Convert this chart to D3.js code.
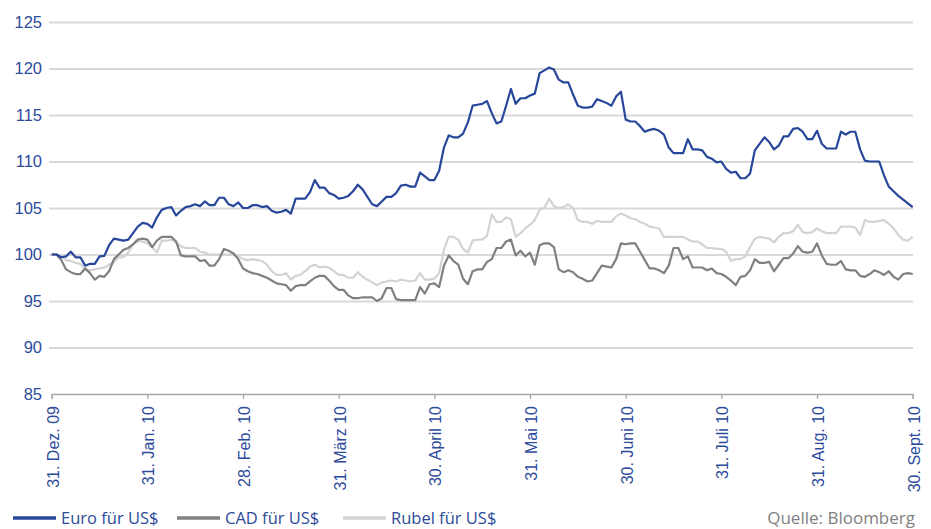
<!DOCTYPE html>
<html>
<head>
<meta charset="utf-8">
<script src="https://cdn.jsdelivr.net/npm/d3@7"></script>
<style>
  body { margin: 0; background: #fff; }
  svg { display: block; font-family: "Open Sans", "Noto Sans", sans-serif; }
</style>
</head>
<body>
<svg id="chart" width="931" height="529"></svg>
<script>
// Wechselkurse, indexiert (31.12.2009 = 100), Handelstage als Index
const tickLabels = ["31. Dez. 09", "31. Jan. 10", "28. Feb. 10", "31. März 10", "30. April 10",
                    "31. Mai 10", "30. Juni 10", "31. Juli 10", "31. Aug. 10", "30. Sept. 10"]
const tickIdx = [0, 20, 40, 60, 80, 100, 120, 140, 160, 180]
const yTicks = [85, 90, 95, 100, 105, 110, 115, 120, 125]

const euro = [
  100.0, 100.0, 99.7, 99.8, 100.3, 99.7, 99.7, 98.8, 99.0, 99.0,
  99.8, 99.85, 101.0, 101.7, 101.6, 101.5, 101.6, 102.3, 103.0, 103.4,
  103.3, 102.9, 104.0, 104.8, 105.0, 105.1, 104.2, 104.7, 105.1, 105.2,
  105.4, 105.2, 105.7, 105.3, 105.3, 106.1, 106.1, 105.4, 105.2, 105.6,
  105.0, 105.0, 105.3, 105.3, 105.1, 105.2, 104.7, 104.5, 104.6, 104.8,
  104.4, 106.0, 106.0, 106.0, 106.7, 108.0, 107.2, 107.2, 106.6, 106.4,
  106.0, 106.1, 106.3, 106.8, 107.5, 107.0, 106.2, 105.4, 105.2, 105.7,
  106.2, 106.2, 106.6, 107.4, 107.5, 107.3, 107.3, 108.8, 108.4, 108.0,
  108.0, 109.0, 111.5, 112.8, 112.6, 112.6, 113.0, 114.2, 116.0, 116.1,
  116.2, 116.5, 115.2, 114.1, 114.3, 116.0, 117.8, 116.2, 116.8, 116.8,
  117.1, 117.3, 119.5, 119.8, 120.1, 119.9, 118.8, 118.5, 118.5, 117.2,
  116.0, 115.8, 115.8, 115.9, 116.7, 116.5, 116.3, 116.0, 117.0, 117.5,
  114.5, 114.3, 114.3, 113.8, 113.2, 113.4, 113.5, 113.3, 112.9, 111.5,
  110.9, 110.9, 110.9, 112.4, 111.3, 111.3, 111.2, 110.5, 110.3, 109.9,
  110.0, 109.2, 108.8, 108.9, 108.2, 108.2, 108.7, 111.2, 111.9, 112.6,
  112.1, 111.3, 111.7, 112.7, 112.7, 113.5, 113.6, 113.2, 112.4, 112.4,
  113.3, 111.9, 111.4, 111.4, 111.4, 113.2, 112.9, 113.2, 113.2, 111.3,
  110.1, 110.0, 110.0, 110.0, 108.5, 107.3, 106.8, 106.3, 105.9, 105.5,
  105.1
]

const cad = [
  100.0, 100.0, 99.4, 98.4, 98.1, 97.9, 97.9, 98.5, 98.0, 97.3,
  97.7, 97.6, 98.2, 99.5, 100.0, 100.5, 100.7, 101.1, 101.6, 101.7,
  101.6, 100.8, 101.5, 101.9, 101.9, 101.9, 101.4, 99.9, 99.8, 99.8,
  99.8, 99.3, 99.4, 98.8, 98.8, 99.5, 100.6, 100.4, 100.1, 99.5,
  98.5, 98.2, 98.0, 97.9, 97.7, 97.5, 97.2, 96.9, 96.8, 96.7,
  96.1, 96.6, 96.7, 96.7, 97.1, 97.5, 97.7, 97.7, 97.2, 96.6,
  96.2, 96.2, 95.6, 95.3, 95.3, 95.4, 95.4, 95.4, 95.0, 95.3,
  96.4, 96.4, 95.2, 95.1, 95.1, 95.1, 95.1, 96.5, 95.8, 96.8,
  96.9, 96.5, 98.8, 99.9, 99.3, 98.9, 97.4, 96.8, 98.2, 98.4,
  98.4, 99.2, 99.5, 100.7, 100.7, 101.4, 101.6, 99.9, 100.4, 99.8,
  100.2, 98.9, 101.0, 101.2, 101.2, 100.8, 98.4, 98.1, 98.3, 98.1,
  97.6, 97.4, 97.1, 97.2, 98.0, 98.8, 98.7, 98.6, 99.5, 101.2,
  101.1, 101.2, 101.2, 100.3, 99.4, 98.5, 98.5, 98.3, 98.0, 98.8,
  100.7, 100.7, 99.5, 99.8, 98.6, 98.6, 98.6, 98.3, 98.5, 98.0,
  97.9, 97.6, 97.2, 96.7, 97.6, 97.7, 98.3, 99.5, 99.1, 99.1,
  99.2, 98.2, 98.9, 99.6, 99.6, 100.1, 100.9, 100.3, 100.2, 100.3,
  101.2, 99.9, 99.0, 98.9, 98.9, 99.3, 98.4, 98.3, 98.3, 97.7,
  97.6, 97.9, 98.3, 98.1, 97.8, 98.2, 97.6, 97.3, 97.9, 98.0,
  97.9
]

const rubel = [
  100.0, 100.0, 99.8, 99.4, 99.3, 99.1, 99.0, 98.4, 98.3, 98.4,
  98.5, 98.6, 98.9, 99.2, 99.7, 99.7, 100.2, 101.1, 101.4, 101.4,
  101.2, 100.8, 100.2, 101.5, 101.5, 101.6, 101.3, 100.9, 100.7, 100.7,
  100.7, 100.3, 100.2, 100.0, 100.0, 100.0, 100.0, 100.0, 100.0, 99.8,
  99.5, 99.4, 99.5, 99.4, 99.3, 98.9, 98.2, 97.8, 97.8, 98.0,
  97.3, 97.7, 97.8, 98.2, 98.7, 98.9, 98.6, 98.7, 98.6, 98.2,
  97.8, 97.8, 97.5, 97.5, 98.1, 97.6, 97.3, 97.0, 96.7, 97.0,
  97.1, 97.2, 97.1, 97.3, 97.2, 97.1, 97.2, 98.0, 97.3, 97.3,
  97.4, 98.0, 100.5, 101.9, 101.9, 101.6, 100.6, 100.2, 101.5, 101.6,
  101.6, 102.0, 104.3, 103.5, 103.5, 104.0, 103.8, 101.9, 102.3, 102.8,
  103.2, 103.7, 104.8, 105.0, 106.0, 105.2, 105.0, 105.1, 105.4, 105.0,
  103.7, 103.5, 103.5, 103.3, 103.6, 103.5, 103.5, 103.5, 104.1, 104.4,
  104.2, 103.9, 103.8, 103.5, 103.3, 103.0, 102.9, 102.8, 101.9, 101.9,
  101.9, 101.9, 101.9, 101.6, 101.4, 101.4, 101.1, 100.7, 100.7, 100.6,
  100.6, 100.3, 99.3, 99.5, 99.5, 99.8, 100.8, 101.7, 101.9, 101.8,
  101.7, 101.3, 101.9, 102.3, 102.3, 102.5, 103.2, 102.4, 102.3, 102.4,
  102.8, 102.5, 102.3, 102.3, 102.3, 103.0, 103.0, 103.0, 102.9, 102.1,
  103.7, 103.5, 103.5, 103.6, 103.7, 103.3, 102.8, 102.1, 101.6, 101.5,
  101.9
]

const seriesNames = ["Euro für US$", "CAD für US$", "Rubel für US$"]
const seriesColors = ["#27479b", "#808080", "#d3d3d3"]
const seriesData = [euro, cad, rubel]

const svg = d3.select("#chart")
const textBlue = "#2d4b9b"

const x = d3.scaleLinear().domain([0, euro.length - 1]).range([51.7, 912.7])
const y = d3.scaleLinear().domain([85, 125]).range([394, 22])

// Gitternetz + y-Beschriftung
const yAxis = svg.append("g").attr("transform", "translate(49,0)")
  .call(d3.axisLeft(y).tickValues(yTicks).tickSize(-864).tickPadding(7))
yAxis.select(".domain").remove()
yAxis.selectAll(".tick line")
  .attr("stroke", "#d9d9d9").attr("stroke-width", 2)
  .attr("display", d => d === 85 ? "none" : null)
yAxis.selectAll(".tick text")
  .attr("fill", textBlue).style("font-size", "16.5px")

// x-Achse
const xAxis = svg.append("g").attr("transform", `translate(0,${y(85)})`)
  .call(d3.axisBottom(x).tickValues(tickIdx).tickFormat((d, i) => tickLabels[i]).tickSize(5))
xAxis.select(".domain").attr("stroke", "#a6a6a6").attr("stroke-width", 1.3)
xAxis.selectAll(".tick line").attr("stroke", "#a6a6a6").attr("stroke-width", 1.3)
xAxis.selectAll(".tick text")
  .attr("fill", textBlue).style("font-size", "16px")
  .attr("transform", "rotate(-90)")
  .attr("text-anchor", "end")
  .attr("x", -12).attr("y", 1).attr("dy", "0.35em")

// Linien (Rubel zuerst, Euro oben)
const line = d3.line().x((d, i) => x(i)).y(d => y(d))
;[2, 1, 0].forEach(k => {
  svg.append("path")
    .datum(seriesData[k])
    .attr("fill", "none")
    .attr("stroke", seriesColors[k])
    .attr("stroke-width", 2.2)
    .attr("stroke-linejoin", "round")
    .attr("d", line)
})

// Legende
const legendX = [13, 177, 343]
const legend = svg.append("g").attr("transform", "translate(0,518)")
seriesNames.forEach((name, k) => {
  legend.append("line")
    .attr("x1", legendX[k]).attr("x2", legendX[k] + 43)
    .attr("stroke", seriesColors[k]).attr("stroke-width", 3.5)
  legend.append("text")
    .attr("x", legendX[k] + 48).attr("dy", "0.35em")
    .attr("fill", textBlue).style("font-size", "16.5px")
    .text(name)
})

svg.append("text")
  .attr("x", 915).attr("y", 518).attr("dy", "0.35em")
  .attr("text-anchor", "end")
  .attr("fill", "#7f7f7f").style("font-size", "17px")
  .text("Quelle: Bloomberg")
</script>
</body>
</html>
